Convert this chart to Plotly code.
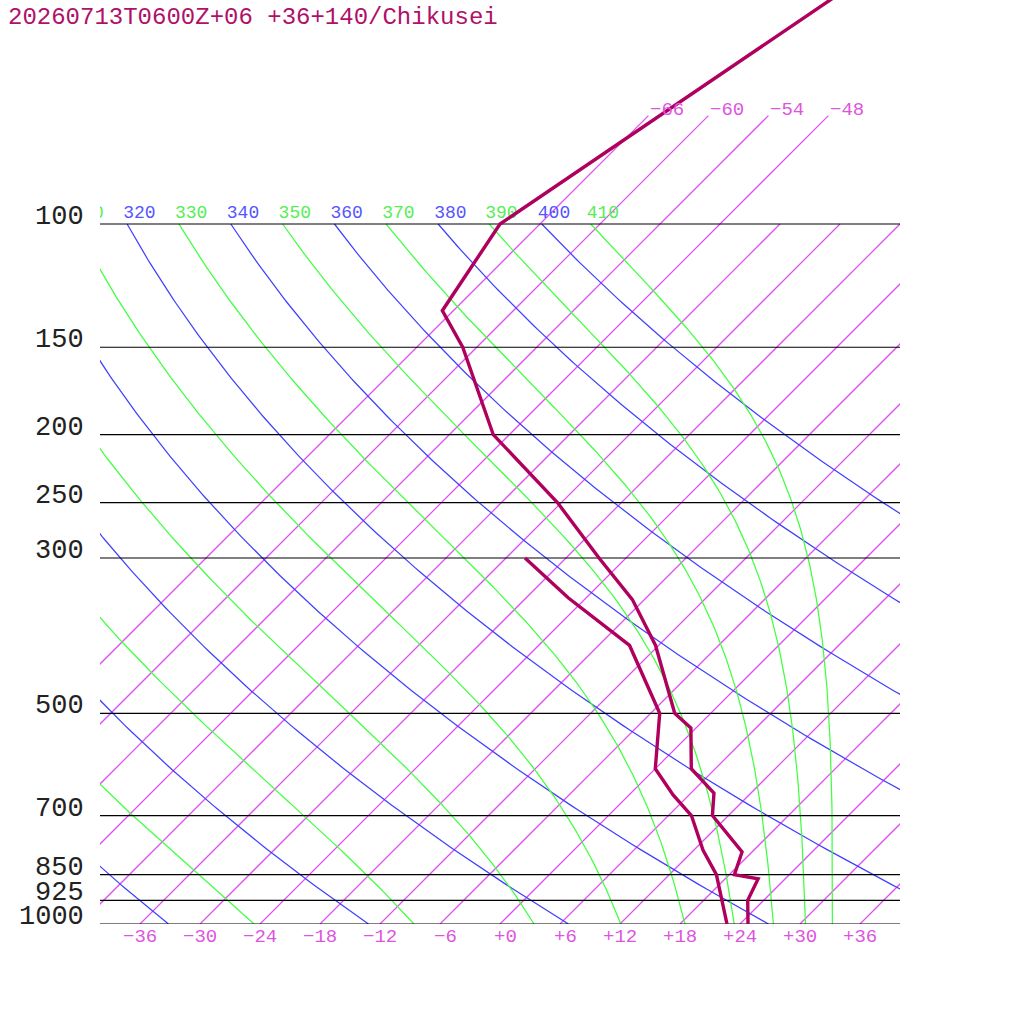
import numpy as np
import plotly.graph_objects as go

# ---------------- data ----------------
title_text = "20260713T0600Z+06 +36+140/Chikusei"

# temperature profile (hPa, degC)
temp_p = [1000, 925, 862, 850, 789, 700, 650, 600, 525, 500, 400, 344, 300, 250, 200, 150, 133, 100, 40]
temp_t = [24.8, 22.4, 21.3, 18.5, 17.0, 10.4, 8.3, 3.6, -0.5, -3.6, -12.3, -19.2, -26.7, -36.4, -49.6, -61.4, -67.1, -70.0, -56.8]

# dew point profile (hPa, degC)
dew_p = [1000, 850, 784, 700, 654, 600, 500, 400, 342, 300]
dew_t = [22.7, 16.7, 12.9, 8.3, 4.4, 0.0, -5.1, -14.9, -25.8, -34.1]

# reference lines
isobars = [100, 150, 200, 250, 300, 500, 700, 850, 925, 1000]
isobar_labels = ["100", "150", "200", "250", "300", "500", "700", "850", "925", "1000"]
isotherms = list(range(-66, 37, 6))
isotherms_high = [-66, -60, -54, -48]          # these reach up to 70 hPa
dry_thetas = [240, 260, 280, 300, 320, 340, 360, 380, 400]
moist_thetas = [250, 270, 290, 310, 330, 350, 370, 390, 410]
bottom_ticks = [-36, -30, -24, -18, -12, -6, 0, 6, 12, 18, 24, 30, 36]

# ---------------- styling ----------------
SKEW = 70.0   # degC of skew per decade of pressure
FONT = "Liberation Mono"
C_PROF = "#b0005e"
C_TITLE = "#b0106a"
C_ISO = "#e050f0"
C_ISO_LBL = "#dd55dd"
C_DRY = "#4040ff"
C_MOIST = "#40ff40"
KAPPA = 0.2854


def sx(t, p):
    return np.asarray(t, float) + SKEW * np.log10(1000.0 / np.asarray(p, float))


def theta_e(tk, p):
    tc = tk - 273.15
    es = 6.112 * np.exp(17.67 * tc / (tc + 243.5))
    es = np.minimum(es, 0.5 * p)
    r = 622.0 * es / (p - es)
    th = tk * (1000.0 / p) ** (KAPPA * (1 - 0.28e-3 * r))
    return th * np.exp((3.376 / tk - 0.00254) * r * (1 + 0.81e-3 * r))


def moist_T(the, p):
    lo = np.full_like(p, 120.0)
    hi = np.full_like(p, 340.0)
    for _ in range(60):
        mid = 0.5 * (lo + hi)
        v = theta_e(mid, p)
        big = v > the
        hi = np.where(big, mid, hi)
        lo = np.where(big, lo, mid)
    return 0.5 * (lo + hi) - 273.15


fig = go.Figure()

# isotherms (single trace, several points per line)
xs, ys = [], []
for t in isotherms:
    ptop = 70.0 if t in isotherms_high else 100.0
    pp = np.logspace(3, np.log10(ptop), 12)
    xs += sx(t, pp).tolist() + [None]
    ys += pp.tolist() + [None]
fig.add_trace(go.Scatter(x=xs, y=ys, mode="lines", connectgaps=False,
                         line=dict(color=C_ISO, width=1.25), hoverinfo="skip"))

pgrid = np.logspace(3, 2, 160)

# dry adiabats
for th in dry_thetas:
    t = th * (pgrid / 1000.0) ** KAPPA - 273.15
    fig.add_trace(go.Scatter(x=sx(t, pgrid).tolist(), y=pgrid.tolist(), mode="lines",
                             line=dict(color=C_DRY, width=1.25), hoverinfo="skip"))

# moist adiabats
moist_top = []
for th in moist_thetas:
    t = moist_T(float(th), pgrid)
    fig.add_trace(go.Scatter(x=sx(t, pgrid).tolist(), y=pgrid.tolist(), mode="lines",
                             line=dict(color=C_MOIST, width=1.25), hoverinfo="skip"))
    moist_top.append(float(sx(t[-1], 100.0)))

# isobars
for p in isobars:
    fig.add_trace(go.Scatter(x=[-40, 40], y=[p, p], mode="lines",
                             line=dict(color="black", width=1.2), hoverinfo="skip"))

# adiabat labels at 100 hPa (clipped to the plot area)
lab_x, lab_t, lab_c = [], [], []
for th in dry_thetas:
    x100 = float(sx(th * 0.1 ** KAPPA - 273.15, 100.0))
    lab_x.append(x100); lab_t.append(str(th)); lab_c.append("#5555ff")
for th, x100 in zip(moist_thetas, moist_top):
    lab_x.append(x100); lab_t.append(str(th)); lab_c.append("#55ee55")
p_lab = 1000.0 * 10 ** (-(924 - 213) / 700.0)
fig.add_trace(go.Scatter(
    x=[v - 0.4 for v in lab_x], y=[p_lab] * len(lab_x), mode="text", text=lab_t,
    textposition="middle right", textfont=dict(family=FONT, size=18, color=lab_c),
    cliponaxis=True, hoverinfo="skip"))

# profiles
fig.add_trace(go.Scatter(x=sx(dew_t, dew_p).tolist(), y=dew_p, mode="lines",
                         line=dict(color=C_PROF, width=3.4), hoverinfo="skip"))
fig.add_trace(go.Scatter(x=sx(temp_t, temp_p).tolist(), y=temp_p, mode="lines",
                         line=dict(color=C_PROF, width=3.4), hoverinfo="skip"))

ann = []
# pressure labels
for p, s in zip(isobars, isobar_labels):
    ann.append(dict(x=-14 / 800.0, xref="paper", y=np.log10(p), yref="y", text=s, showarrow=False,
                    xanchor="right", yanchor="middle", yshift=7,
                    font=dict(family=FONT, size=27, color="#222222")))
# bottom temperature labels
for t in bottom_ticks:
    s = ("+%d" % t) if t >= 0 else ("\u2212%d" % (-t))
    ann.append(dict(x=t, xref="x", y=0, yref="paper", text=s, showarrow=False,
                    xanchor="center", yanchor="middle", yshift=-12.5,
                    xshift=5.5 if len(s) == 2 else 0,
                    font=dict(family=FONT, size=19, color=C_ISO_LBL)))
# high isotherm labels
for t in isotherms_high:
    ann.append(dict(x=float(sx(t, 70.0)), xref="x", y=np.log10(70.0), yref="y",
                    text="\u2212%d" % (-t), showarrow=False, xanchor="left", yanchor="middle",
                    yshift=5.5, font=dict(family=FONT, size=19, color=C_ISO_LBL)))
# title
ann.append(dict(x=(6 - 100) / 800.0, xref="paper", y=1 - 17 / 924.0, yref="paper", text=title_text,
                showarrow=False, xanchor="left", yanchor="middle",
                font=dict(family=FONT, size=24, color=C_TITLE)))

fig.update_layout(
    width=1024, height=1024,
    margin=dict(l=100, r=124, t=0, b=100, pad=0),
    paper_bgcolor="white", plot_bgcolor="white",
    showlegend=False,
    xaxis=dict(range=[-40, 40], visible=False),
    yaxis=dict(type="log", range=[3, 3 - 924 / 700.0], visible=False),
    annotations=ann,
)

fig.write_html("out.html", config={"displayModeBar": False},
               post_script="document.body.style.margin='0';document.body.style.overflow='hidden';")
